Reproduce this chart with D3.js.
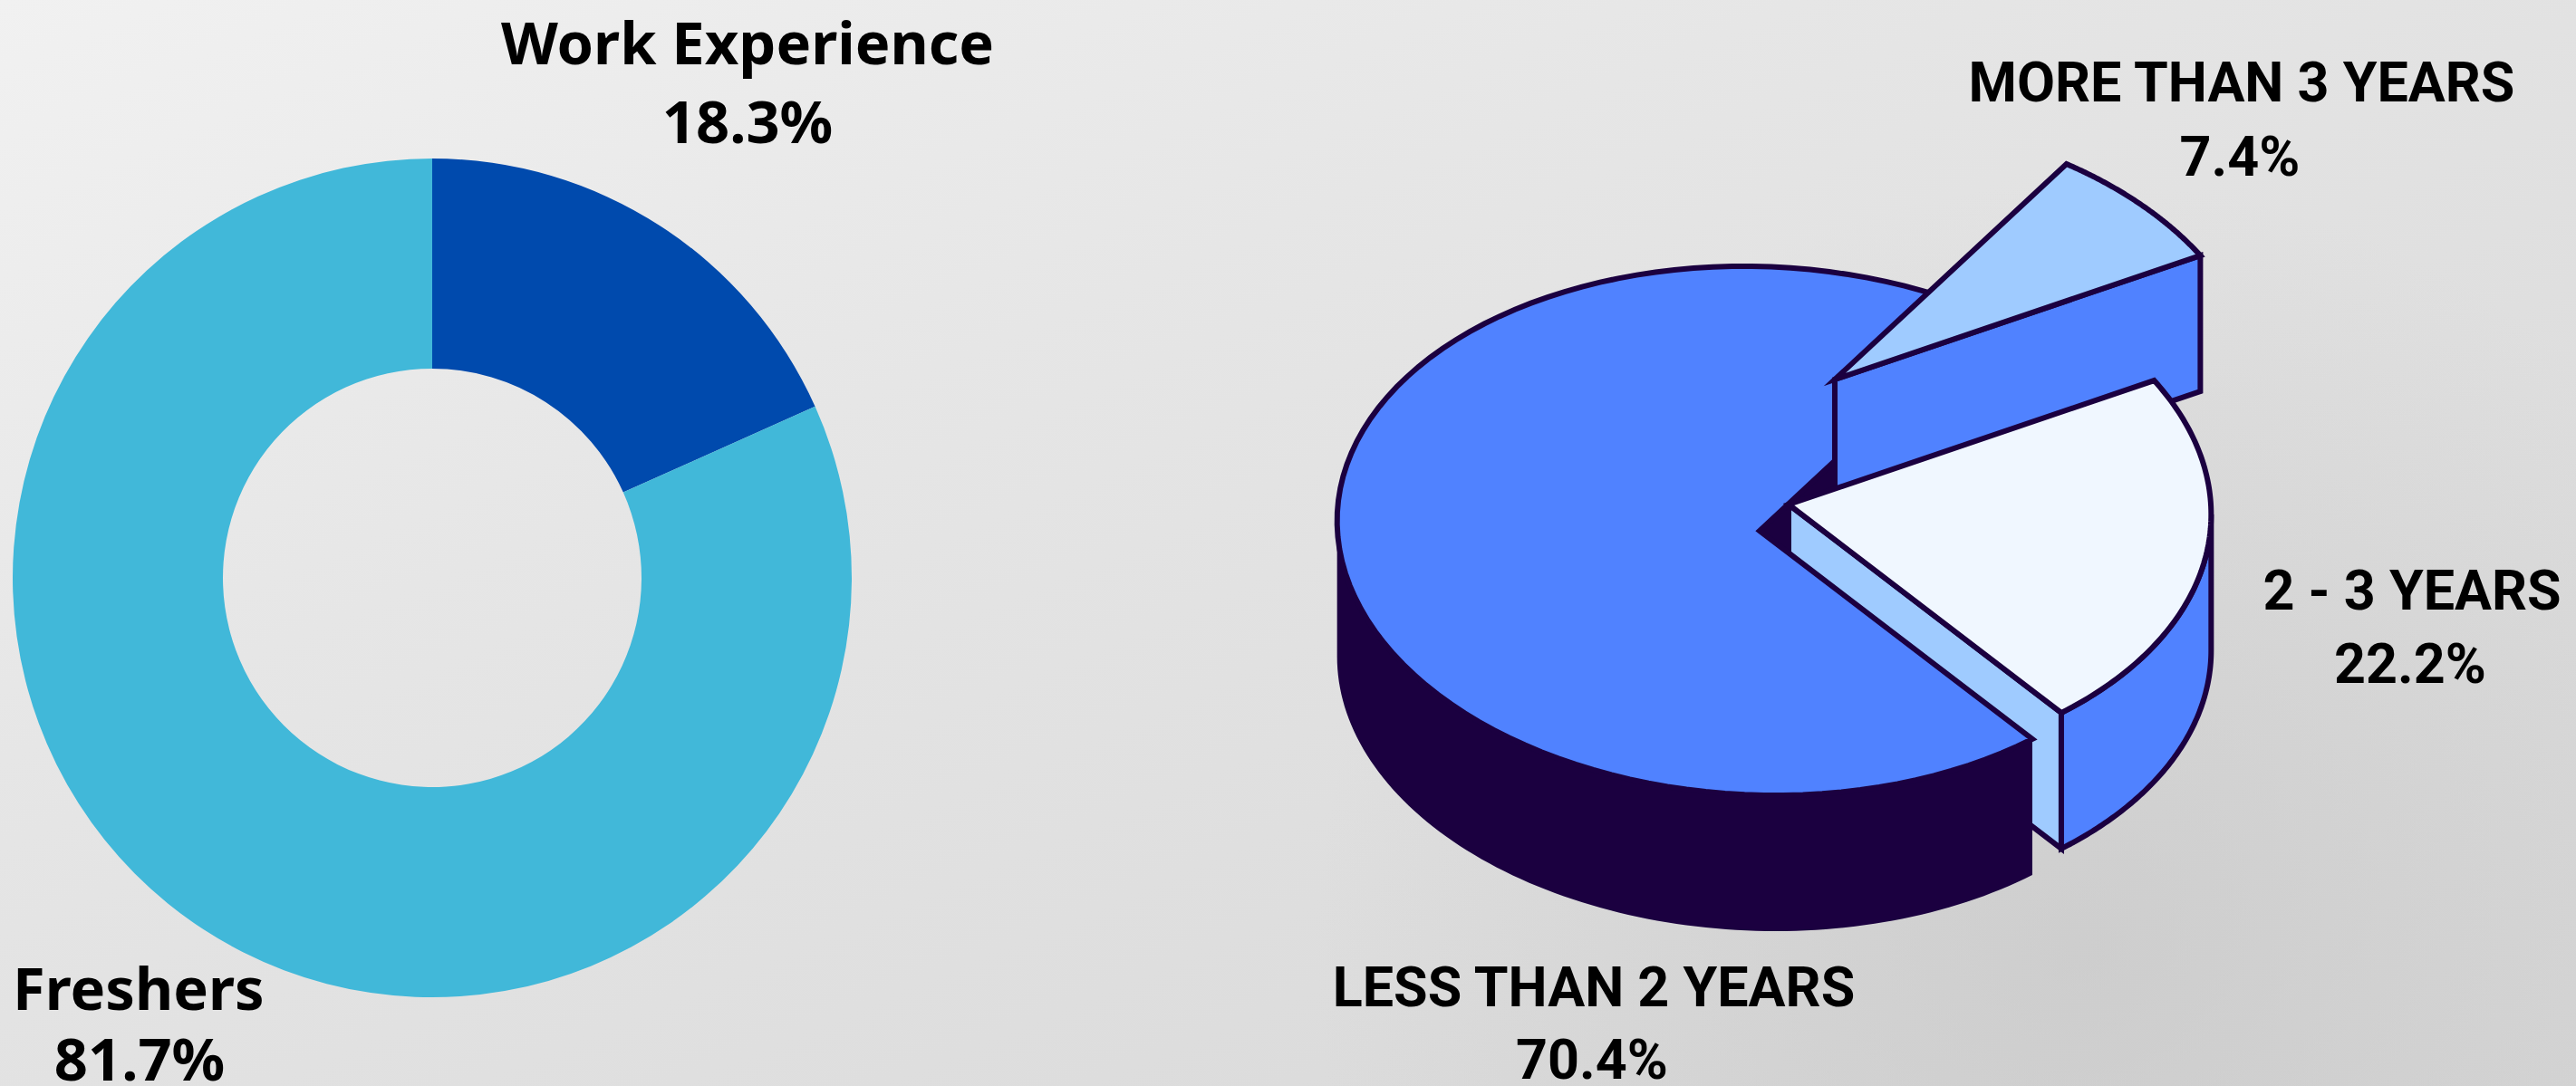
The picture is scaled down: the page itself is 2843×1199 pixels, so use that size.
<!DOCTYPE html>
<html>
<head>
<meta charset="utf-8">
<style>
  html, body { margin: 0; padding: 0; background: #e2e2e2; }
  svg { display: block; }
  text { font-weight: 700; fill: #000; }
</style>
<script src="https://cdn.jsdelivr.net/npm/d3@7/dist/d3.min.js"></script>
</head>
<body>
<svg id="chart" width="2843" height="1199"></svg>
<script>
// Share of respondents by background
const backgroundLabels = ["Work Experience", "Freshers"];
const backgroundValues = [18.3, 81.7];
const backgroundColors = ["#004aad", "#41b8d9"];

// Length of experience, clockwise from the smallest wedge
const tenureLabels = ["MORE THAN 3 YEARS", "2 - 3 YEARS", "LESS THAN 2 YEARS"];
const tenureValues = [7.4, 22.2, 70.4];

const svg = d3.select("#chart");
const defs = svg.append("defs");

// Paper-like grey backdrop
const base = defs.append("linearGradient").attr("id", "paper")
  .attr("x1", 0).attr("y1", 0).attr("x2", 1).attr("y2", 1);
[[0, "#f1f1f1"], [0.35, "#e6e6e6"], [0.75, "#dcdcdc"], [1, "#d6d6d6"]].forEach(([o, c]) =>
  base.append("stop").attr("offset", o).attr("stop-color", c));
const shade = defs.append("radialGradient").attr("id", "shade")
  .attr("gradientUnits", "userSpaceOnUse")
  .attr("cx", 2300).attr("cy", 1050).attr("r", 850);
shade.append("stop").attr("offset", 0).attr("stop-color", "#bdbdbd").attr("stop-opacity", 0.42);
shade.append("stop").attr("offset", 1).attr("stop-color", "#bdbdbd").attr("stop-opacity", 0);
svg.append("rect").attr("width", 2843).attr("height", 1199).attr("fill", "url(#paper)");
svg.append("rect").attr("width", 2843).attr("height", 1199).attr("fill", "url(#shade)");

// Donut on the left
const donut = svg.append("g").attr("transform", "translate(477,638)");
const donutPie = d3.pie().sort(null);
const donutArc = d3.arc().innerRadius(231).outerRadius(463);
donut.selectAll("path")
  .data(donutPie(backgroundValues))
  .join("path")
  .attr("d", donutArc)
  .attr("fill", (d, i) => backgroundColors[i]);

// Extruded pie on the right: wedge sweeps come from d3.pie, then get tilted onto an ellipse
const INK = "#1b0040", BLUE = "#5082ff", SKY = "#9fcbff", ICE = "#f0f7ff";
const RX = 466, RY = 292, SKEW = 0.06, DEPTH = 150, INK_W = 6;
const edgeAngle = Math.atan(SKEW * RY / RX);          // where the rim turns away from the viewer

const wedges = d3.pie().sort(null).startAngle(35.4 * Math.PI / 180)
  .endAngle(35.4 * Math.PI / 180 + 2 * Math.PI)(tenureValues);
const [skyWedge, iceWedge, mainWedge] = wedges.map(w => ({
  from: w.startAngle - Math.PI / 2,
  to: w.endAngle - Math.PI / 2
}));

const rimPoint = (c, t, drop = 0) => [
  c[0] + RX * Math.cos(t) + SKEW * RY * Math.sin(t),
  c[1] + RY * Math.sin(t) + drop
];
const rim = (c, from, to, drop = 0) =>
  d3.range(0, 97).map(i => rimPoint(c, from + (to - from) * i / 96, drop));
const outline = d3.line().curve(d3.curveLinear);
const closed = pts => outline(pts) + "Z";

const topFace = (c, w) => closed([c, ...rim(c, w.from, w.to)]);
const rimWall = (c, from, to) => closed([...rim(c, from, to), ...rim(c, to, from, DEPTH)]);
const cutWall = (c, t) => closed([
  c, rimPoint(c, t), rimPoint(c, t, DEPTH), [c[0], c[1] + DEPTH]
]);

// Wedge apexes; the two smaller wedges are pulled out of the disc
const mainC = [1942, 586], skyC = [2025, 419], iceC = [1974, 557];

const pie3d = svg.append("g")
  .attr("stroke-linejoin", "miter")
  .attr("stroke-miterlimit", 8);

const draw = (d, fill, stroke) => pie3d.append("path")
  .attr("d", d)
  .attr("fill", fill)
  .attr("stroke", stroke ? INK : "none")
  .attr("stroke-width", stroke ? INK_W : 0);

// Back to front
draw(cutWall(mainC, mainWedge.to), INK, false);
draw(cutWall(iceC, iceWedge.to), SKY, true);
draw(rimWall(iceC, edgeAngle, iceWedge.to), BLUE, true);
draw(rimWall(mainC, mainWedge.from, Math.PI + edgeAngle), INK, false);
draw(topFace(mainC, mainWedge), BLUE, true);
draw(cutWall(skyC, skyWedge.to), BLUE, true);
draw(topFace(skyC, skyWedge), SKY, true);
draw(topFace(iceC, iceWedge), ICE, true);

// Labels
const pct = v => v.toFixed(1) + "%";
const LEFT_FONT = '"Noto Sans", sans-serif', RIGHT_FONT = 'Roboto, sans-serif';
const labels = [
  { t: backgroundLabels[0], x: 825, y: 71, a: "middle", s: 65, f: LEFT_FONT },
  { t: pct(backgroundValues[0]), x: 825, y: 158, a: "middle", s: 65, f: LEFT_FONT },
  { t: backgroundLabels[1], x: 14, y: 1115, a: "start", s: 65, f: LEFT_FONT },
  { t: pct(backgroundValues[1]), x: 154, y: 1193, a: "middle", s: 65, f: LEFT_FONT },
  { t: tenureLabels[0], x: 2474, y: 112, a: "middle", s: 61, f: RIGHT_FONT },
  { t: pct(tenureValues[0]), x: 2472, y: 194, a: "middle", s: 61, f: RIGHT_FONT },
  { t: tenureLabels[1], x: 2662, y: 673, a: "middle", s: 61, f: RIGHT_FONT },
  { t: pct(tenureValues[1]), x: 2660, y: 754, a: "middle", s: 61, f: RIGHT_FONT },
  { t: tenureLabels[2], x: 1759, y: 1111, a: "middle", s: 61, f: RIGHT_FONT },
  { t: pct(tenureValues[2]), x: 1757, y: 1191, a: "middle", s: 61, f: RIGHT_FONT }
];
svg.append("g").selectAll("text")
  .data(labels)
  .join("text")
  .attr("x", d => d.x)
  .attr("y", d => d.y)
  .attr("text-anchor", d => d.a)
  .attr("font-family", d => d.f)
  .attr("font-size", d => d.s)
  .text(d => d.t);
</script>
</body>
</html>
